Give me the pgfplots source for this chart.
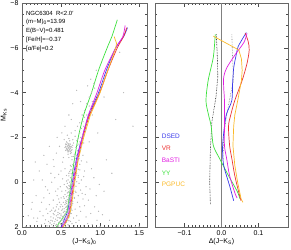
\documentclass[border=0pt]{standalone}
\usepackage{fontspec}
\setmainfont{Liberation Sans}
\usepackage{pgfplots}
\pgfplotsset{compat=1.18}
\definecolor{cDSED}{RGB}{60,60,235}
\definecolor{cVR}{RGB}{235,50,50}
\definecolor{cBaSTI}{RGB}{225,30,225}
\definecolor{cYY}{RGB}{60,225,60}
\definecolor{cPG}{RGB}{250,185,40}
\pgfplotsset{common/.style={scale only axis, height=224pt, y dir=reverse,
  ymin=-8, ymax=2, ytick={-8,-6,-4,-2,0,2}, minor ytick={-7.5,-7,...,1.5},
  tick align=inside, major tick length=4pt, minor tick length=2pt,
  tick style={black!70, line width=0.3pt}, axis line style={black!60, line width=0.35pt},
  ticklabel style={font=\fontsize{7}{8}\selectfont},
  label style={font=\fontsize{7}{8}\selectfont},
  xtick pos=both, ytick pos=both}}
\begin{document}
\begin{tikzpicture}
\begin{axis}[common, at={(0,0)}, anchor=south west, width=125pt,
  xmin=0, xmax=1.6, xtick={0,0.5,1,1.5}, xticklabels={0.0,0.5,1.0,1.5},
  minor x tick num=9, yticklabels={−8,−6,−4,−2,0,2},
  xlabel={(J−K\textsubscript{S})\textsubscript{0}}, ylabel={M\textsubscript{Ks}},
  xlabel style={yshift=4pt}, ylabel style={yshift=-3pt}]
\addplot[only marks, mark=*, color=gray!55, mark size=0.38pt, mark options={draw=none, fill=gray!55}] table {
0.93 -4.2
0.97 -3.9
0.90 -3.6
0.86 -3.4
0.88 -3.2
0.83 -3.0
0.80 -2.9
0.85 -2.8
0.78 -2.7
0.82 -2.6
0.79 -2.5
0.76 -2.4
0.81 -2.3
0.74 -2.2
0.78 -2.1
0.75 -2.0
0.72 -1.95
0.77 -1.9
0.70 -1.85
0.74 -1.8
0.79 -1.75
0.73 -1.7
0.71 -1.65
0.76 -1.6
0.69 -1.55
0.58 -1.75
0.60 -1.72
0.62 -1.7
0.57 -1.68
0.59 -1.65
0.61 -1.62
0.63 -1.6
0.56 -1.6
0.58 -1.58
0.60 -1.55
0.62 -1.52
0.59 -1.5
0.57 -1.48
0.61 -1.45
0.64 -1.45
0.60 -1.42
0.58 -1.4
0.62 -1.38
0.55 -1.55
0.65 -1.65
0.57 -1.8
0.61 -1.85
0.59 -1.35
0.63 -1.32
0.56 -1.7
0.70 -1.2
0.66 -1.15
0.72 -1.1
0.68 -1.05
0.64 -1.0
0.71 -0.95
0.67 -0.9
0.69 -0.85
0.74 -0.8
0.65 -0.78
0.68 -0.75
0.63 -0.7
0.70 -0.65
0.66 -0.6
0.72 -0.58
0.64 -0.55
0.68 -0.5
0.61 -0.48
0.67 -0.45
0.70 -0.4
0.63 -0.38
0.65 -0.35
0.69 -0.3
0.60 -0.28
0.66 -0.25
0.72 -0.22
0.62 -0.2
0.64 -0.15
0.68 -0.12
0.59 -0.1
0.66 -0.08
0.63 -0.05
0.70 -0.02
0.61 0.0
0.65 0.03
0.58 0.05
0.67 0.08
0.62 0.1
0.64 0.13
0.60 0.15
0.69 0.18
0.57 0.2
0.63 0.22
0.66 0.25
0.61 0.28
0.59 0.3
0.65 0.33
0.62 0.35
0.56 0.38
0.68 0.4
0.60 0.42
0.63 0.45
0.58 0.48
0.66 0.5
0.61 0.52
0.55 0.55
0.64 0.58
0.59 0.6
0.62 0.63
0.57 0.65
0.67 0.68
0.60 0.7
0.54 0.72
0.63 0.75
0.58 0.78
0.61 0.8
0.56 0.83
0.65 0.85
0.59 0.88
0.53 0.9
0.62 0.92
0.57 0.95
0.60 0.98
0.55 1.0
0.64 1.02
0.58 1.05
0.52 1.08
0.61 1.1
0.56 1.12
0.59 1.15
0.54 1.18
0.63 1.2
0.57 1.22
0.51 1.25
0.60 1.28
0.55 1.3
0.58 1.33
0.53 1.35
0.62 1.38
0.56 1.4
0.50 1.42
0.59 1.45
0.54 1.48
0.57 1.5
0.52 1.53
0.61 1.55
0.55 1.58
0.49 1.6
0.58 1.62
0.53 1.65
0.56 1.68
0.51 1.7
0.60 1.72
0.54 1.75
0.48 1.78
0.57 1.8
0.52 1.83
0.55 1.85
0.50 1.88
0.59 1.9
0.53 1.92
0.47 1.95
0.56 1.97
0.45 0.6
0.40 0.8
0.48 0.9
0.35 1.0
0.44 1.1
0.47 1.2
0.38 1.25
0.42 1.3
0.46 1.35
0.33 1.4
0.41 1.45
0.44 1.5
0.37 1.55
0.46 1.58
0.40 1.6
0.43 1.65
0.30 1.68
0.45 1.7
0.39 1.73
0.42 1.76
0.47 1.8
0.36 1.82
0.41 1.85
0.44 1.88
0.38 1.9
0.43 1.93
0.32 1.95
0.46 1.97
0.40 1.98
0.27 1.5
0.25 1.9
0.35 0.5
0.30 0.2
0.42 -0.2
0.38 0.0
0.46 0.3
0.50 0.7
0.49 1.1
0.50 1.5
0.48 1.4
0.12 1.2
0.18 0.6
0.22 -0.5
0.28 -1.2
0.15 -0.1
0.25 0.9
0.20 1.6
0.10 1.95
0.05 1.98
0.32 -0.8
0.35 -1.6
0.40 -1.0
0.45 -2.0
0.50 -0.5
0.53 -1.1
0.55 -2.5
0.60 -3.0
0.65 -3.5
0.70 -4.1
0.75 -3.6
0.78 -1.2
0.80 -0.5
0.82 0.2
0.85 0.8
0.88 1.4
0.90 1.9
0.77 0.5
0.74 1.1
0.73 1.7
0.76 -0.1
0.79 1.95
0.83 -0.9
0.86 -1.8
0.92 -0.2
0.95 0.6
0.98 1.3
1.00 1.98
1.05 0.4
1.08 -1.0
1.12 1.7
1.15 -0.4
1.20 1.97
1.30 1.98
1.38 1.96
1.45 1.98
1.50 1.97
1.42 -2.5
1.02 -4.6
1.10 -5.3
1.25 -5.8
0.95 -5.0
0.88 -4.6
0.84 -4.3
1.05 -3.8
1.20 -2.8
0.97 -2.2
1.30 -4.0
0.68 -2.3
0.63 -2.8
0.90 -3.0
0.72 -0.3
0.71 0.9
0.70 1.5
0.69 1.8
0.75 1.3
0.68 1.2
0.66 1.6
0.67 1.95
0.64 1.85
0.63 1.4
0.72 0.6
0.52 -0.9
0.55 -0.6
0.57 -0.3
0.54 0.1
0.51 0.4
0.49 0.2
0.53 0.65
0.47 0.75
0.45 1.0
0.43 0.4
0.40 1.15
0.36 1.3
0.34 1.75
0.29 1.85
0.31 1.2
0.28 0.7
0.23 1.3
0.19 1.75
0.15 1.6
0.13 0.9
0.08 1.5
0.17 -0.9
0.26 -0.1
0.33 0.35
0.37 -0.4
0.41 -0.7
0.44 -1.3
0.48 -1.6
0.51 -2.2
0.54 -1.9
0.47 -0.35
0.52 -0.15
0.73 0.05
0.75 0.35
0.78 0.75
0.74 -0.55
0.76 -0.95
0.80 1.05
0.82 1.55
0.84 1.85
0.79 -0.25
0.81 0.55
0.87 0.3
0.89 -0.6
0.93 1.1
0.96 1.7
0.99 0.1
1.03 1.45
0.71 -1.4
0.73 -1.05
0.75 -1.45
0.67 -1.25
0.65 -1.9
0.68 -2.05
0.71 -2.5
0.74 -2.65
0.77 -3.0
0.80 -3.2
0.83 -3.5
0.86 -3.8
0.89 -4.0
0.92 -4.4
0.60 1.95
0.62 1.75
0.58 1.68
0.55 1.42
0.52 1.2
0.50 1.0
0.56 0.92
0.60 1.35
0.62 1.05
0.65 0.95
0.67 0.72
0.69 0.45
0.62 0.55
0.58 0.25
0.60 -0.4
0.62 -0.75
0.64 -1.15
0.66 -0.45
0.57 0.85
0.54 1.3
0.51 1.65
0.49 1.85
0.46 1.45
0.43 1.25
0.40 1.4
0.37 1.7
0.35 1.95
0.45 1.92
0.48 1.6
0.53 1.55
0.58 1.5
0.64 1.25
0.57 1.1
0.61 0.85
0.63 0.65
0.59 0.45
0.61 0.18
0.57 -0.05
0.62 -0.55
0.60 -1.1
0.59 -1.25
0.62 -1.28
0.64 -1.55
0.66 -1.75
0.60 -1.95
0.58 -2.1
0.63 -2.2
0.61 -1.6
0.59 -1.62
0.60 -1.68
0.62 -1.58
0.57 -1.52
0.61 -1.48
0.63 -1.42
0.58 -1.45
0.60 -1.38
0.56 -1.42
};
\addplot[cDSED, line width=0.7pt, smooth] coordinates {(1.35,-6.9) (1.30,-6.5) (1.20,-6) (1.08,-5) (0.98,-4) (0.855,-3) (0.77,-2) (0.695,-1) (0.645,0) (0.60,1) (0.585,1.3) (0.55,1.6) (0.50,2.0)};
\addplot[cVR, line width=0.7pt, smooth] coordinates {(1.34,-6.9) (1.30,-6.5) (1.22,-6) (1.10,-5) (0.995,-4) (0.865,-3) (0.78,-2) (0.715,-1) (0.665,0) (0.625,1) (0.605,1.4) (0.57,1.7) (0.52,2.0)};
\addplot[cBaSTI, line width=0.7pt, smooth] coordinates {(1.32,-7.0) (1.29,-6.5) (1.20,-6) (1.06,-5) (0.96,-4) (0.85,-3) (0.77,-2) (0.705,-1) (0.655,0) (0.615,1) (0.595,1.4) (0.56,1.7) (0.51,2.0)};
\addplot[cYY, line width=0.7pt, smooth] coordinates {(1.22,-7.25) (1.15,-6.5) (1.09,-6) (0.98,-5) (0.89,-4) (0.79,-3) (0.72,-2) (0.67,-1) (0.63,0) (0.59,1) (0.575,1.3) (0.52,1.6) (0.44,2.0)};
\addplot[cPG, line width=0.7pt] coordinates {(1.18,-6.5) (1.21,-6.2) (1.20,-6) (1.10,-5) (1.00,-4) (0.875,-3) (0.79,-2) (0.72,-1) (0.675,0) (0.635,1) (0.615,1.4) (0.58,1.7) (0.53,2.0)};
\begin{scope}[every node/.style={anchor=west, font=\fontsize{6}{7}\selectfont, inner sep=0pt}]
\node at (axis cs:0.05,-7.55) {NGC6304\ \ R<2.0′};
\node at (axis cs:0.05,-7.15) {(m−M)\textsubscript{0}=13.99};
\node at (axis cs:0.05,-6.75) {E(B−V)=0.481};
\node at (axis cs:0.05,-6.35) {[Fe/H]=−0.37};
\node at (axis cs:0.05,-5.95) {[α/Fe]=0.2};
\end{scope}
\end{axis}
\begin{axis}[common, at={(133pt,0)}, anchor=south west, width=133pt,
  xmin=-0.18, xmax=0.18, xtick={-0.1,0,0.1}, xticklabels={−0.1,0.0,0.1},
  minor x tick num=9, yticklabels={},
  xlabel={Δ(J−K\textsubscript{S})}, xlabel style={yshift=4pt}]
\addplot[gray, line width=0.9pt] coordinates {(0,-8) (0,2)};
\addplot[black, densely dotted, line width=0.6pt] coordinates {(-0.014,-6.6) (-0.011,-5.5) (-0.010,-4.7) (-0.015,-3.8) (-0.026,-2.7) (-0.030,-1.5) (-0.032,0) (-0.030,1.0)};
\addplot[gray, densely dotted, line width=0.6pt] coordinates {(0.028,-6.6) (0.030,-5.5) (0.033,-4.6) (0.022,-3.7) (0.012,-2.8) (0.006,-2.0) (0.004,-1.0)};
\addplot[cYY, line width=0.7pt, smooth] coordinates {(-0.017,-6.6) (-0.022,-5.6) (-0.036,-4.55) (-0.042,-3.65) (-0.036,-3.07) (-0.028,-2.5) (-0.022,-1.63) (-0.005,-1.05) (0.019,-0.29) (0.042,0.39) (0.05,0.74)};
\addplot[cDSED, line width=0.7pt, smooth] coordinates {(0.067,-6.68) (0.055,-6.35) (0.045,-6.05) (0.040,-5.7) (0.033,-5.1) (0.030,-4.4) (0.028,-3.65) (0.014,-3.07) (0.008,-2.5) (0.003,-1.63) (0.004,-1.0) (0.008,-0.6) (0.022,0.16) (0.033,0.83)};
\addplot[cVR, line width=0.7pt, smooth] coordinates {(0.064,-6.65) (0.072,-6.3) (0.075,-5.9) (0.069,-5.3) (0.056,-4.55) (0.036,-3.65) (0.025,-3.0) (0.019,-2.5) (0.022,-1.63) (0.028,-1.05) (0.036,-0.29) (0.047,0.47) (0.053,0.83)};
\addplot[cBaSTI, line width=0.7pt, smooth] coordinates {(0.069,-6.65) (0.061,-6.25) (0.036,-5.67) (0.014,-5.1) (0.006,-4.7) (0.006,-4.2) (0.008,-3.65) (0.008,-2.5) (0.008,-1.63) (0.014,-1.05) (0.022,-0.29) (0.036,0.47) (0.042,0.7)};
\addplot[cPG, line width=0.7pt] coordinates {(-0.022,-6.52) (0.047,-5.9) (0.054,-5.5) (0.056,-5.0) (0.054,-4.55) (0.044,-3.65) (0.036,-3.0) (0.033,-2.5) (0.031,-1.63) (0.036,-0.75) (0.044,0.03) (0.053,0.74) (0.058,0.9)};
\begin{scope}[every node/.style={anchor=west, font=\fontsize{6.5}{7}\selectfont, inner sep=0pt}]
\node[text=cDSED] at (axis cs:-0.162,-2.04) {DSED};
\node[text=cVR] at (axis cs:-0.162,-1.50) {VR};
\node[text=cBaSTI] at (axis cs:-0.162,-0.96) {BaSTI};
\node[text=cYY] at (axis cs:-0.162,-0.42) {YY};
\node[text=cPG] at (axis cs:-0.162,0.07) {PGPUC};
\end{scope}
\end{axis}
\pgfresetboundingbox
\path[use as bounding box] (-22pt,-22pt) rectangle (269pt,227pt);
\end{tikzpicture}
\end{document}
